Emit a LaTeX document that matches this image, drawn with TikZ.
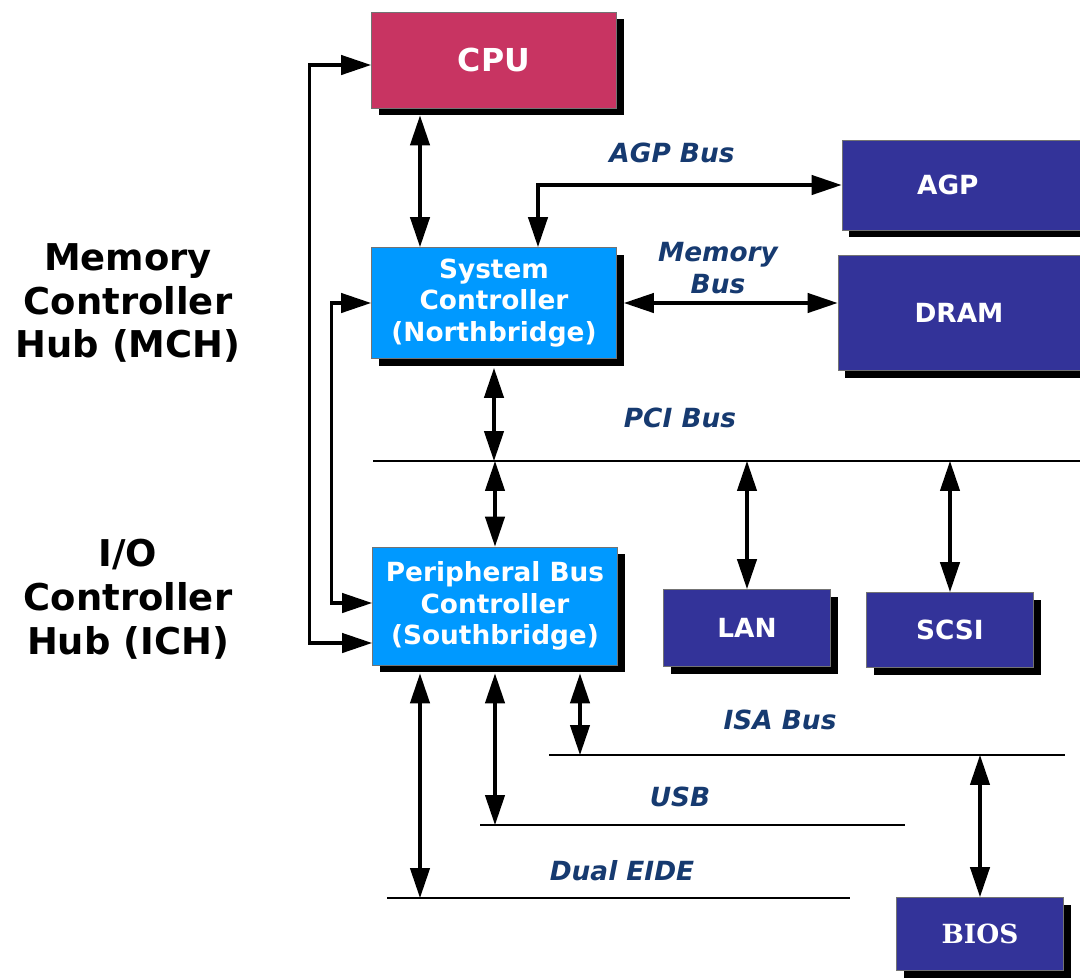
\documentclass[tikz,border=0pt]{standalone}
\usepackage{fontspec}
\setmainfont{DejaVu Sans}
\newfontfamily\biosfont{DejaVu Serif}
\usepackage{tikz}
\usetikzlibrary{arrows.meta, calc, shadows}
\definecolor{cpuRed}{RGB}{200, 52, 98}
\definecolor{hubBlue}{RGB}{0, 153, 255}
\definecolor{devBlue}{RGB}{51, 51, 153}
\definecolor{busText}{RGB}{22, 58, 112}

\begin{document}
\begin{tikzpicture}[
    x=0.02cm, y=-0.02cm,
    box/.style={rectangle, draw=black!55, line width=0.5pt, text=white, align=center, inner sep=0pt,
        general shadow={fill=black, shadow xshift=4pt, shadow yshift=-4pt}},
    cpubox/.style={box, fill=cpuRed, font=\fontsize{18}{22}\selectfont\bfseries},
    hub/.style={box, fill=hubBlue, minimum width=4.9cm, font=\fontsize{15}{18}\selectfont\bfseries},
    dev/.style={box, fill=devBlue, font=\fontsize{15}{18}\selectfont\bfseries},
    bus/.style={line width=1.5pt},
    busname/.style={font=\fontsize{15}{18}\selectfont\bfseries\itshape, text=busText, align=center},
    side/.style={font=\fontsize{21}{25}\selectfont\bfseries, align=center},
    biarr/.style={{Triangle[length=17pt, width=11pt]}-{Triangle[length=17pt, width=11pt]}, line width=1.8pt}
]
\useasboundingbox (0,0) rectangle (1080,978);
\fill[white] (0,0) rectangle (1080,978);
\clip (0,0) rectangle (1080,978);

\node[cpubox, minimum width=4.9cm, minimum height=1.92cm] (cpu) at (494,60) {CPU};
\node[hub, minimum height=2.22cm] (nb) at (494,303) {System\\Controller\\(Northbridge)};
\node[hub, minimum height=2.36cm] (sb) at (495,606) {Peripheral Bus\\Controller\\(Southbridge)};
\node[dev, minimum width=4.76cm, minimum height=1.8cm] (agp) at (961,185) {AGP\hspace{15pt}};
\node[dev, minimum width=4.84cm, minimum height=2.3cm] (dram) at (959,313) {DRAM};
\node[dev, minimum width=3.34cm, minimum height=1.54cm] (lan) at (747,628) {LAN};
\node[dev, minimum width=3.34cm, minimum height=1.5cm] (scsi) at (950,630) {SCSI};
\node[dev, minimum width=3.34cm, minimum height=1.46cm, font=\biosfont\fontsize{15}{18}\selectfont\bfseries] (bios) at (980,934) {BIOS};

% bus lines
\coordinate (pciL) at (373,461); \coordinate (pciR) at (1080,461);
\coordinate (isaL) at (549,755); \coordinate (isaR) at (1065,755);
\coordinate (usbL) at (480,825); \coordinate (usbR) at (905,825);
\coordinate (ideL) at (387,898); \coordinate (ideR) at (850,898);
\foreach \b in {pci,isa,usb,ide} \draw[bus] (\b L) -- (\b R);

\draw[biarr] ($(cpu.south)+(-74,7)$) -- ($(nb.north)+(-74,0)$);
\draw[biarr] ($(nb.north)+(44,0)$) |- (agp.west);
\draw[biarr] ($(nb.east)+(7,0)$) -- (nb.east -| dram.west);
\draw[biarr] ($(nb.south)+(0,9)$) -- (nb.south |- pciL);
\draw[biarr] (sb.north |- pciL) -- (sb.north);
\draw[biarr] (lan.north |- pciL) -- (lan.north);
\draw[biarr] (scsi.north |- pciL) -- (scsi.north);
\draw[biarr] (bios.north |- isaL) -- (bios.north);
\draw[biarr] ($(sb.south)+(-75,8)$) -- ($(sb.south |- ideL)+(-75,0)$);
\draw[biarr] ($(sb.south)+(0,8)$) -- (sb.south |- usbL);
\draw[biarr] ($(sb.south)+(85,8)$) -- ($(sb.south |- isaL)+(85,0)$);
\draw[biarr] ($(cpu.west)+(0,5)$) -- ++(-62,0) |- ($(sb.west)+(0,37)$);
\draw[biarr] (nb.west) -- ++(-40,0) |- ($(sb.west)+(0,-3)$);

\node[busname] (agpbus) at (672,153) {AGP Bus};
\node[busname] (membus) at (718,268) {Memory\\Bus};
\node[busname] (pcibus) at (680,418) {PCI Bus};
\node[busname] (isabus) at (780,720) {ISA Bus};
\node[busname] (usbbus) at (680,797) {USB};
\node[busname] (idebus) at (622,871) {Dual EIDE};

\node[side] (mch) at (128,303) {Memory\\Controller\\Hub (MCH)};
\node[side] (ich) at (128,599) {I/O\\Controller\\Hub (ICH)};
\end{tikzpicture}
\end{document}
